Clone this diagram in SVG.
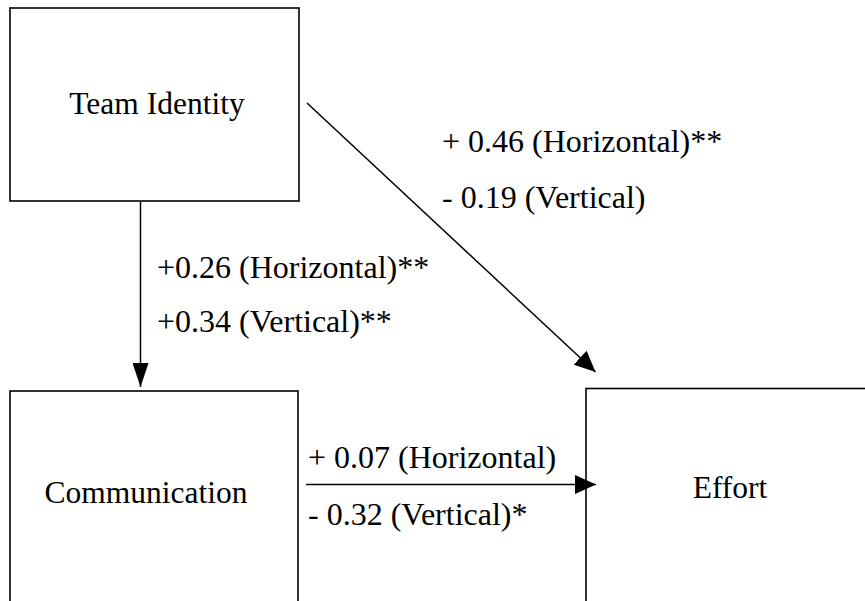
<svg xmlns="http://www.w3.org/2000/svg" width="865" height="601" viewBox="0 0 865 601">
  <style>
    .box { fill: #ffffff; stroke: #000000; stroke-width: 1.6; }
    .name { font-family: "Liberation Serif", "Times New Roman", serif; font-size: 31.5px; fill: #000000; text-anchor: middle; }
    .coef { font-family: "Liberation Serif", "Times New Roman", serif; font-size: 32px; fill: #000000; }
    .link { stroke: #000000; stroke-width: 1.5; fill: none; }
  </style>
  <defs>
    <!-- slender head for the vertical path, broader head for the paths into Effort -->
    <marker id="head" markerUnits="userSpaceOnUse" markerWidth="24" markerHeight="16" refX="24" refY="8" orient="auto">
      <path d="M0,0 L24,8 L0,16 Z" fill="#000000"/>
    </marker>
    <marker id="head-wide" markerUnits="userSpaceOnUse" markerWidth="21" markerHeight="19" refX="21" refY="9.5" orient="auto">
      <path d="M0,0 L21,9.5 L0,19 Z" fill="#000000"/>
    </marker>
  </defs>
  <rect width="865" height="601" fill="#ffffff"/>

  <g id="team-identity">
    <rect class="box" x="10" y="8" width="289" height="193"/>
    <text class="name" x="157" y="114">Team Identity</text>
  </g>

  <g id="communication">
    <rect class="box" x="10" y="391" width="288" height="260"/>
    <text class="name" x="146" y="503">Communication</text>
  </g>

  <g id="effort">
    <rect class="box" x="586" y="388.5" width="320" height="260"/>
    <text class="name" x="730" y="498">Effort</text>
  </g>

  <g id="connectors">
    <line class="link" x1="140.5" y1="202" x2="140.5" y2="387" marker-end="url(#head)"/>
    <line class="link" x1="307" y1="103" x2="595.5" y2="372" marker-end="url(#head-wide)"/>
    <line class="link" x1="306" y1="484.5" x2="596" y2="484.5" marker-end="url(#head-wide)"/>
  </g>

  <g id="coefficients">
    <text class="coef" x="157" y="278">+0.26 (Horizontal)**</text>
    <text class="coef" x="157" y="332">+0.34 (Vertical)**</text>
    <text class="coef" x="442" y="152">+ 0.46 (Horizontal)**</text>
    <text class="coef" x="442" y="208">- 0.19 (Vertical)</text>
    <text class="coef" x="308" y="468">+ 0.07 (Horizontal)</text>
    <text class="coef" x="308" y="525">- 0.32 (Vertical)*</text>
  </g>
</svg>
